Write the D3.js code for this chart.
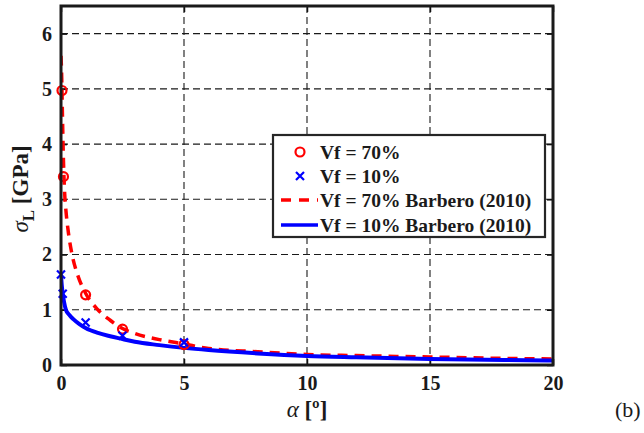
<!DOCTYPE html>
<html><head><meta charset="utf-8">
<script src="https://cdn.jsdelivr.net/npm/d3@7"></script>
<style>
body{margin:0;background:#fff}
svg{display:block}
svg text{font-family:"Liberation Serif","Times New Roman",serif !important;}
</style>
</head><body>
<svg id="c" width="644" height="433"></svg>
<script>
// Experimental points
const alphaVf70 = [0.04, 0.1, 1, 2.5, 5];
const sigmaVf70 = [4.97, 3.41, 1.27, 0.65, 0.37];
const alphaVf10 = [0, 0.07, 1, 2.5, 5];
const sigmaVf10 = [1.64, 1.29, 0.77, 0.53, 0.41];
// Barbero (2010) curves
const alphaB70 = [0, 0.03, 0.06, 0.1, 0.15, 0.2, 0.3, 0.45, 0.7, 1, 1.5, 2, 2.5, 3, 4, 5, 6, 8, 10, 12, 15, 18, 20];
const sigmaB70 = [5.6, 5.2, 4.5, 3.7, 3.1, 2.8, 2.4, 2.0, 1.6, 1.3, 1.0, 0.81, 0.66, 0.57, 0.46, 0.38, 0.3, 0.24, 0.19, 0.17, 0.145, 0.12, 0.11];
const alphaB10 = [0, 0.03, 0.07, 0.12, 0.2, 0.35, 0.5, 0.75, 1, 1.5, 2, 2.5, 3, 4, 5, 6, 8, 10, 12, 15, 18, 20];
const sigmaB10 = [1.64, 1.45, 1.29, 1.15, 1.0, 0.9, 0.83, 0.74, 0.67, 0.58, 0.52, 0.47, 0.42, 0.36, 0.31, 0.27, 0.21, 0.165, 0.14, 0.11, 0.09, 0.08];
const xTicks = [0, 5, 10, 15, 20];
const yTicks = [0, 1, 2, 3, 4, 5, 6];
const legendLabels = ["Vf = 70%", "Vf = 10%", "Vf = 70% Barbero (2010)", "Vf = 10% Barbero (2010)"];

const svg = d3.select("#c");
const L = 61, R = 553, T = 6, B = 365;
const x = d3.scaleLinear().domain([0, 20]).range([L, R]);
const y = d3.scaleLinear().domain([0, 6.5]).range([B, T]);
const fontName = "Liberation Serif";

// grid
const g = svg.append("g");
g.selectAll(".gx").data(xTicks.slice(1, -1)).enter().append("line")
  .attr("x1", d => x(d)).attr("x2", d => x(d)).attr("y1", T).attr("y2", B)
  .attr("stroke", "#1a1a1a").attr("stroke-width", 1.1).attr("stroke-dasharray", "7,4");
g.selectAll(".gy").data(yTicks.slice(1)).enter().append("line")
  .attr("x1", L).attr("x2", R).attr("y1", d => y(d)).attr("y2", d => y(d))
  .attr("stroke", "#1a1a1a").attr("stroke-width", 1.1).attr("stroke-dasharray", "7,4");

// axes
const ax = svg.append("g").attr("transform", `translate(0,${B})`)
  .call(d3.axisBottom(x).tickValues(xTicks).tickSize(-6).tickPadding(11).tickFormat(d3.format("d")));
const axT = svg.append("g").attr("transform", `translate(0,${T})`)
  .call(d3.axisTop(x).tickValues(xTicks).tickSize(-6).tickFormat(""));
const ay = svg.append("g").attr("transform", `translate(${L},0)`)
  .call(d3.axisLeft(y).tickValues(yTicks).tickSize(-6).tickPadding(9).tickFormat(d3.format("d")));
const ayR = svg.append("g").attr("transform", `translate(${R},0)`)
  .call(d3.axisRight(y).tickValues(yTicks).tickSize(-6).tickFormat(""));
[ax, axT, ay, ayR].forEach(a => {
  a.attr("font-family", null);
  a.select(".domain").remove();
  a.selectAll(".tick line").attr("stroke", "#111").attr("stroke-width", 1.5);
  a.selectAll("text").style("font-family", fontName).attr("font-weight", "bold").attr("font-size", 20).attr("fill", "#1a1a1a");
});

// curves
const line = d3.line().x(d => x(d[0])).y(d => y(d[1])).curve(d3.curveMonotoneX);
svg.append("clipPath").attr("id", "clp").append("rect").attr("x", L).attr("y", T).attr("width", R - L).attr("height", B - T);
svg.append("path").datum(d3.zip(alphaB70, sigmaB70)).attr("d", line).attr("clip-path", "url(#clp)")
  .attr("fill", "none").attr("stroke", "#ff0000").attr("stroke-width", 3.5).attr("stroke-dasharray", "10,7");
svg.append("path").datum(d3.zip(alphaB10, sigmaB10)).attr("d", line).attr("clip-path", "url(#clp)")
  .attr("fill", "none").attr("stroke", "#0000ff").attr("stroke-width", 4);

// markers
svg.selectAll(".c70").data(d3.zip(alphaVf70, sigmaVf70)).enter().append("circle")
  .attr("cx", d => x(d[0])).attr("cy", d => y(d[1])).attr("r", 4.5)
  .attr("fill", "none").attr("stroke", "#ff0000").attr("stroke-width", 2.2);
const cross = (sel, cx, cy, s) => sel.append("path")
  .attr("d", `M${cx - s},${cy - s}L${cx + s},${cy + s}M${cx - s},${cy + s}L${cx + s},${cy - s}`)
  .attr("stroke", "#0000ff").attr("stroke-width", 2.2).attr("fill", "none");
d3.zip(alphaVf10, sigmaVf10).forEach(d => cross(svg, x(d[0]), y(d[1]), 4));

// box
svg.append("rect").attr("x", L).attr("y", T).attr("width", R - L).attr("height", B - T)
  .attr("fill", "none").attr("stroke", "#1a1a1a").attr("stroke-width", 3);

// legend
const lg = svg.append("g");
lg.append("rect").attr("x", 273).attr("y", 135).attr("width", 272).attr("height", 102)
  .attr("fill", "#fff").attr("stroke", "#262626").attr("stroke-width", 2.2);
const ly = [152, 176, 200, 225];
lg.append("circle").attr("cx", 300).attr("cy", ly[0]).attr("r", 4.5).attr("fill", "none").attr("stroke", "#ff0000").attr("stroke-width", 2.2);
cross(lg, 300, ly[1], 4);
lg.append("line").attr("x1", 281).attr("x2", 318).attr("y1", ly[2]).attr("y2", ly[2]).attr("stroke", "#ff0000").attr("stroke-width", 3.5).attr("stroke-dasharray", "10,8");
lg.append("line").attr("x1", 281).attr("x2", 318).attr("y1", ly[3]).attr("y2", ly[3]).attr("stroke", "#0000ff").attr("stroke-width", 3.5);
lg.selectAll(".lt").data(legendLabels).enter().append("text")
  .attr("x", 320).attr("y", (d, i) => ly[i] + 7).text(d => d)
  .style("font-family", fontName).attr("font-weight", "bold").attr("font-size", 19.5).attr("fill", "#1a1a1a");

// axis labels
const xl = svg.append("text").attr("x", 307).attr("y", 417).attr("text-anchor", "middle")
  .style("font-family", fontName).attr("font-size", 23).attr("fill", "#1a1a1a");
xl.append("tspan").attr("font-style", "italic").text("α");
xl.append("tspan").attr("font-weight", "bold").text(" [º]");
const yl = svg.append("text").attr("transform", "translate(28,189) rotate(-90)").attr("text-anchor", "middle")
  .style("font-family", fontName).attr("font-size", 23).attr("fill", "#1a1a1a");
yl.append("tspan").attr("font-style", "italic").text("σ");
yl.append("tspan").attr("font-weight", "bold").attr("font-size", 17).attr("dy", 6).text("L");
yl.append("tspan").attr("font-weight", "bold").attr("dy", -6).text(" [GPa]");
svg.append("text").attr("x", 615).attr("y", 417).text("(b)")
  .style("font-family", fontName).attr("font-size", 22).attr("fill", "#1a1a1a");
</script>
</body></html>
